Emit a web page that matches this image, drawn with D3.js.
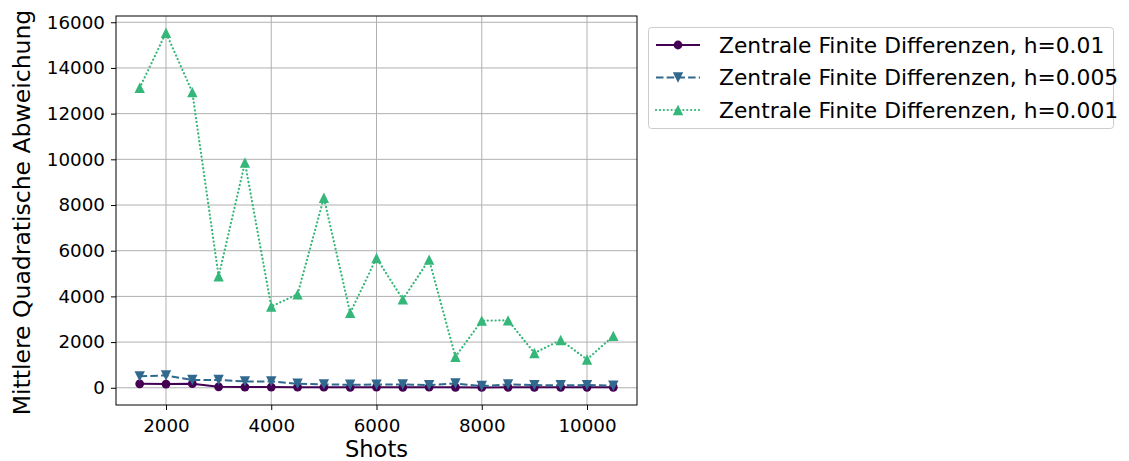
<!DOCTYPE html>
<html><head><meta charset="utf-8">
<script src="https://cdn.jsdelivr.net/npm/d3@7"></script>
<style>body{margin:0;background:#fff;} text{font-family:"DejaVu Sans",sans-serif;}</style>
</head><body><svg id="c" width="1129" height="461"></svg>
<script>
const shots = [1500,2000,2500,3000,3500,4000,4500,5000,5500,6000,6500,7000,7500,8000,8500,9000,9500,10000,10500];
const h001 = [175,160,180,40,30,30,25,25,20,25,20,25,20,15,20,20,20,20,20];
const h0005 = [500,540,340,340,280,280,175,150,130,140,145,118,190,75,145,118,110,118,90];
const h0001 = [13130,15540,12940,4880,9860,3560,4090,8320,3280,5680,3870,5610,1360,2940,2950,1520,2090,1240,2270];
const xTicks = [2000,4000,6000,8000,10000];
const yTicks = [0,2000,4000,6000,8000,10000,12000,14000,16000];
const labels = ["Zentrale Finite Differenzen, h=0.01","Zentrale Finite Differenzen, h=0.005","Zentrale Finite Differenzen, h=0.001"];
const colors = ["#440154","#31688e","#35b779"];
const dashes = [null,"7.5,3.2","0.1,3.8"];
const markers = ["circle","down","up"];
const series = [h001,h0005,h0001];

const svg = d3.select("#c");
const L=116,R=637,T=16,B=405;
const x = d3.scaleLinear().domain([1050,10950]).range([L,R]);
const y = d3.scaleLinear().domain([-754,16274]).range([B,T]);

// grid
svg.append("g").selectAll("line").data(xTicks).join("line")
  .attr("x1",d=>x(d)).attr("x2",d=>x(d)).attr("y1",T).attr("y2",B)
  .attr("stroke","#b0b0b0").attr("stroke-width",1);
svg.append("g").selectAll("line").data(yTicks).join("line")
  .attr("y1",d=>y(d)).attr("y2",d=>y(d)).attr("x1",L).attr("x2",R)
  .attr("stroke","#b0b0b0").attr("stroke-width",1);

function markerPath(type,s){
  if(type==="circle") return d3.symbol(d3.symbolCircle, Math.PI*s*s)();
  const h=s;
  if(type==="up") return `M0,${-h}L${h},${h}L${-h},${h}Z`;
  return `M0,${h}L${h},${-h}L${-h},${-h}Z`;
}

const line = d3.line().x((d,i)=>x(shots[i])).y(d=>y(d));
const plot = svg.append("g");
series.forEach((s,k)=>{
  plot.append("path").datum(s).attr("d",line).attr("fill","none")
    .attr("stroke",colors[k]).attr("stroke-width",k===2?2.2:2)
    .attr("stroke-dasharray",dashes[k]).attr("stroke-linecap",k===2?"round":"butt");
  plot.append("g").selectAll("path").data(s).join("path")
    .attr("transform",(d,i)=>`translate(${x(shots[i])},${y(d)})`)
    .attr("d",markerPath(markers[k],k===0?4.4:5.2))
    .attr("fill",colors[k]);
});

// axes
const xa = svg.append("g").attr("transform",`translate(0,${B})`)
  .call(d3.axisBottom(x).tickValues(xTicks).tickSize(5).tickPadding(9).tickFormat(d3.format("d")));
const ya = svg.append("g").attr("transform",`translate(${L},0)`)
  .call(d3.axisLeft(y).tickValues(yTicks).tickSize(5).tickPadding(6).tickFormat(d3.format("d")));
[xa,ya].forEach(a=>{a.select(".domain").remove();a.selectAll("text").attr("font-size",18.3).attr("fill","#000").style("font-family","DejaVu Sans");a.selectAll("line").attr("stroke","#000");});
svg.append("rect").attr("x",L).attr("y",T).attr("width",R-L).attr("height",B-T)
  .attr("fill","none").attr("stroke","#000").attr("stroke-width",1);

svg.append("text").attr("x",(L+R)/2).attr("y",457).attr("text-anchor","middle")
  .attr("font-size",22.6).text("Shots");
svg.append("text").attr("transform",`translate(30,${(T+B)/2+2}) rotate(-90)`).attr("text-anchor","middle")
  .attr("font-size",23.5).text("Mittlere Quadratische Abweichung");

// legend
const lg = svg.append("g");
lg.append("rect").attr("x",648.5).attr("y",27.5).attr("width",465).attr("height",101).attr("rx",3)
  .attr("fill","#fff").attr("stroke","#ccc").attr("stroke-width",1);
labels.forEach((t,k)=>{
  const yy = 45 + k*32.5;
  lg.append("line").attr("x1",656).attr("x2",700).attr("y1",yy).attr("y2",yy)
    .attr("stroke",colors[k]).attr("stroke-width",k===2?2.2:2).attr("stroke-dasharray",dashes[k])
    .attr("stroke-linecap",k===2?"round":"butt");
  lg.append("path").attr("transform",`translate(678,${yy})`).attr("d",markerPath(markers[k],k===0?4.4:5.2)).attr("fill",colors[k]);
  lg.append("text").attr("x",719).attr("y",yy).attr("dy","0.36em").attr("font-size",21.8).text(t);
});
</script></body></html>
